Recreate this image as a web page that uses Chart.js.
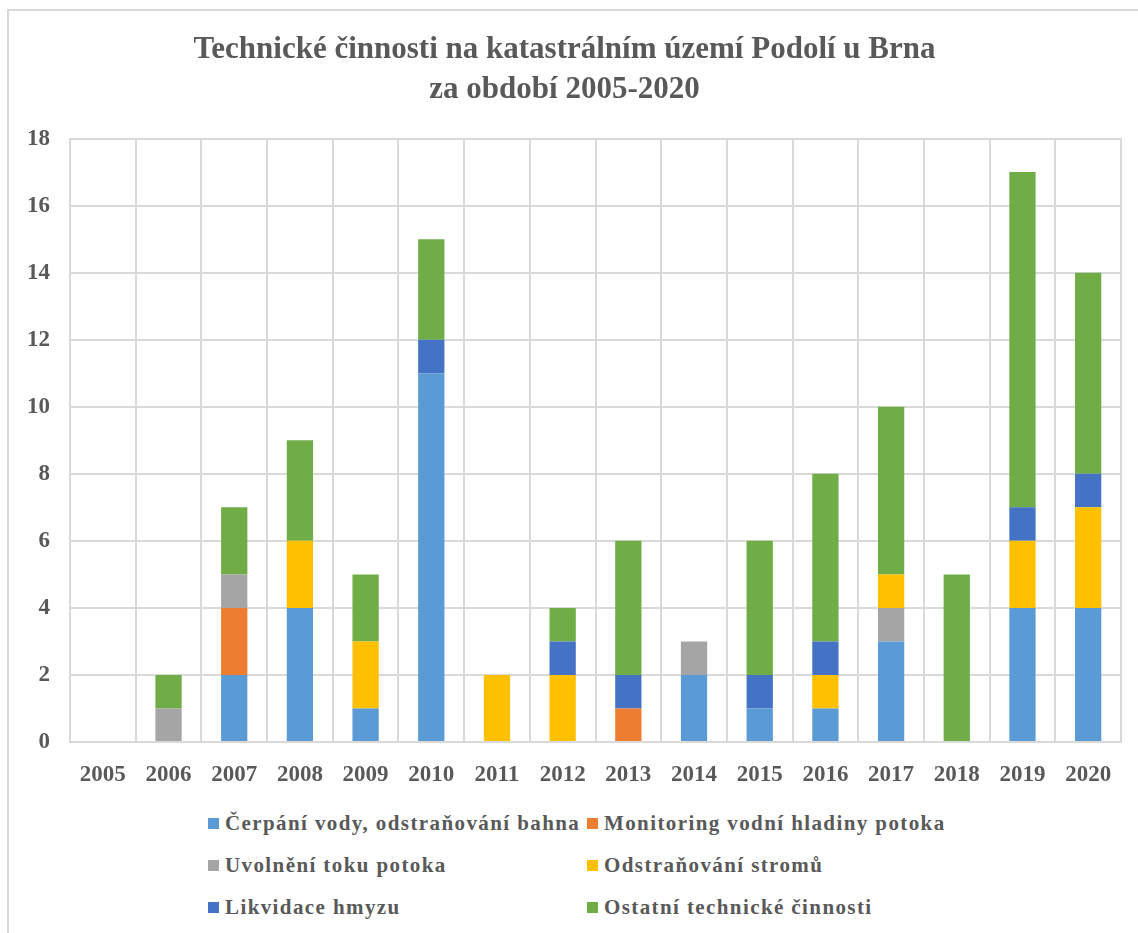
<!DOCTYPE html>
<html>
<head>
<meta charset="utf-8">
<script src="https://cdn.jsdelivr.net/npm/chart.js@4"></script>
<style>
  body { margin: 0; background: #fff; width: 1138px; height: 933px; overflow: hidden; position: relative; }
  #frame { position: absolute; left: 7px; top: 9px; width: 1200px; height: 1000px; border-top: 2px solid #d9d9d9; border-left: 2px solid #d9d9d9; }
  #wrap { position: absolute; left: 0; top: 0; width: 1138px; height: 790px; }
  #legend { position: absolute; left: 0; top: 0; font-family: "Liberation Serif", "Times New Roman", serif; font-weight: bold; font-size: 21px; color: #595959; letter-spacing: 1.4px; }
  .item { position: absolute; white-space: nowrap; line-height: 24px; }
  .box { display: inline-block; width: 11px; height: 11px; margin-right: 6px; vertical-align: 1px; }
</style>
</head>
<body>
<div id="frame"></div>
<div id="wrap"><canvas id="chart"></canvas></div>
<div id="legend"></div>
<script>
// Categories (years)
const years = ['2005', '2006', '2007', '2008', '2009', '2010', '2011', '2012', '2013', '2014', '2015', '2016', '2017', '2018', '2019', '2020'];

// Series values, in stacking order
const cerpani      = [0, 0, 2, 4, 1, 11, 0, 0, 0, 2, 1, 1, 3, 0, 4, 4];
const monitoring   = [0, 0, 2, 0, 0, 0, 0, 0, 1, 0, 0, 0, 0, 0, 0, 0];
const uvolneni     = [0, 1, 1, 0, 0, 0, 0, 0, 0, 1, 0, 0, 1, 0, 0, 0];
const odstranovani = [0, 0, 0, 2, 2, 0, 2, 2, 0, 0, 0, 1, 1, 0, 2, 3];
const likvidace    = [0, 0, 0, 0, 0, 1, 0, 1, 1, 0, 1, 1, 0, 0, 1, 1];
const ostatni      = [0, 1, 2, 3, 2, 3, 0, 1, 4, 0, 4, 5, 5, 5, 10, 6];

const seriesNames = [
  'Čerpání vody, odstraňování bahna',
  'Monitoring vodní hladiny potoka',
  'Uvolnění toku potoka',
  'Odstraňování stromů',
  'Likvidace hmyzu',
  'Ostatní technické činnosti'
];
const seriesColors = ['#5b9bd5', '#ed7d31', '#a5a5a5', '#ffc000', '#4472c4', '#70ad47'];
const seriesData = [cerpani, monitoring, uvolneni, odstranovani, likvidace, ostatni];

const textColor = '#595959';
const gridColor = '#d9d9d9';
const serif = '"Liberation Serif", "Times New Roman", serif';

const datasets = seriesNames.map((name, i) => ({
  label: name,
  data: seriesData[i],
  backgroundColor: seriesColors[i],
  borderWidth: 0,
  categoryPercentage: 0.4,
  barPercentage: 1.0
}));

new Chart(document.getElementById('chart'), {
  type: 'bar',
  data: { labels: years, datasets: datasets },
  options: {
    responsive: true,
    maintainAspectRatio: false,
    animation: false,
    layout: { padding: { left: 8, right: 17, top: 0, bottom: 0 } },
    plugins: {
      legend: { display: false },
      tooltip: { enabled: false },
      title: {
        display: true,
        text: ['Technické činnosti na katastrálním území Podolí u Brna', 'za období 2005-2020'],
        color: textColor,
        font: { family: serif, size: 31, weight: 'bold', lineHeight: 1.3 },
        padding: { top: 30, bottom: 28 }
      }
    },
    scales: {
      x: {
        stacked: true,
        grid: { color: gridColor, lineWidth: 2, drawTicks: false },
        border: { color: gridColor, width: 2 },
        ticks: { color: textColor, font: { family: serif, size: 23, weight: 'bold' }, padding: 19 },
        afterFit: s => { s.height = 48; }
      },
      y: {
        stacked: true,
        min: 0,
        max: 18,
        grid: { color: gridColor, lineWidth: 2, drawTicks: false },
        border: { display: false },
        ticks: { stepSize: 2, color: textColor, font: { family: serif, size: 23, weight: 'bold' }, padding: 20 },
        afterFit: s => { s.width = 62; }
      }
    }
  }
});

// HTML legend, two columns
const legendPos = [[208, 811], [587, 811], [208, 853], [587, 853], [208, 895], [587, 895]];
const legendEl = document.getElementById('legend');
seriesNames.forEach((name, i) => {
  const div = document.createElement('div');
  div.className = 'item';
  div.style.left = legendPos[i][0] + 'px';
  div.style.top = legendPos[i][1] + 'px';
  div.innerHTML = '<span class="box" style="background:' + seriesColors[i] + '"></span>' + name;
  legendEl.appendChild(div);
});
</script>
</body>
</html>
